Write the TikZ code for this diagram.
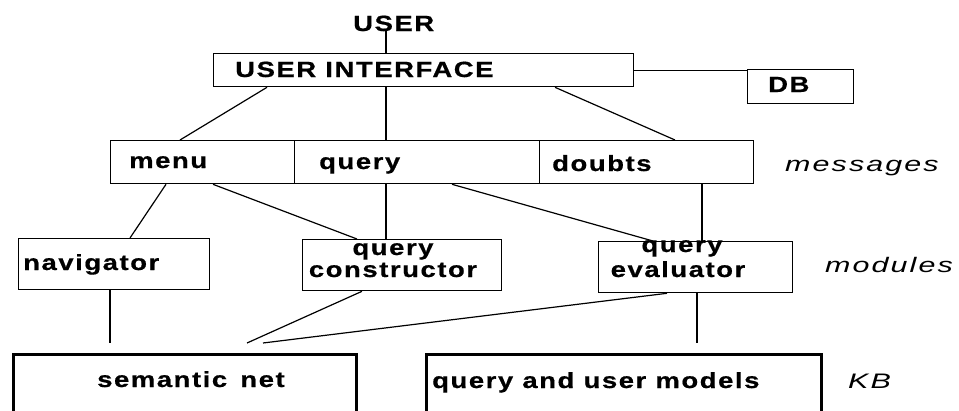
\documentclass[tikz,border=0pt]{standalone}
\usepackage{fontspec}
\usetikzlibrary{calc}
\newfontfamily\boxfont{Liberation Sans Bold}[FakeStretch=1.25,LetterSpace=7,FakeBold=0.6]
\newfontfamily\labfont{Liberation Sans Italic}[FakeStretch=1.45,LetterSpace=10]
\tikzset{
  box/.style={draw, line width=1.3pt, inner sep=0pt, anchor=north west},
  kbbox/.style={draw, line width=3pt, inner sep=0pt, anchor=north west},
  txt/.style={font=\boxfont\fontsize{22}{24}\selectfont, inner sep=0pt, anchor=base west},
  ctxt/.style={font=\boxfont\fontsize{22}{24}\selectfont, inner sep=0pt, anchor=base},
  lab/.style={font=\labfont\fontsize{21}{23}\selectfont, inner sep=0pt, anchor=base west},
  link/.style={line width=1.2pt}
}
\begin{document}
\begin{tikzpicture}[x=1pt,y=-1pt]
\useasboundingbox (0,0) rectangle (959,410);
\clip (0,0) rectangle (959,410);
% boxes
\node[box, minimum width=420pt, minimum height=33pt] (ui) at (213,53) {};
\node[box, minimum width=106pt, minimum height=34pt] (db) at (747,69) {};
\node[box, minimum width=184pt, minimum height=43pt] (menu) at (110,140) {};
\node[box, minimum width=245pt, minimum height=43pt] (qry) at (294,140) {};
\node[box, minimum width=214pt, minimum height=43pt] (doubts) at (539,140) {};
\node[box, minimum width=191pt, minimum height=51pt] (nav) at (18,238) {};
\node[box, minimum width=199pt, minimum height=51pt] (qc) at (302,239) {};
\node[box, minimum width=194pt, minimum height=51pt] (qe) at (598,241) {};
\node[kbbox, minimum width=343pt, minimum height=80pt] (sn) at (12,353) {};
\node[kbbox, minimum width=395pt, minimum height=80pt] (qum) at (425,353) {};
% texts
\node[txt] (user) at (353,31) {USER};
\node[txt] (uitxt) at (235,77) {USER INTERFACE};
\node[txt] (dbtxt) at (768,92) {DB};
\node[txt] (menutxt) at (129,168) {menu};
\node[txt] (qrytxt) at (319,169) {query};
\node[txt] (doubtstxt) at (552,171) {doubts};
\node[txt] (navtxt) at (23,270) {navigator};
\node[ctxt] (qca) at (393,255) {query};
\node[ctxt] (qcb) at (393,277) {constructor};
\node[ctxt] (qea) at (682,252) {query};
\node[ctxt] (qeb) at (678,277) {evaluator};
\node[txt] (sntxt) at (97,387) {semantic\hspace{4pt} net};
\node[txt] (qumtxt) at (432,388) {query and user models};
\node[lab] (msglab) at (785,171) {messages};
\node[lab] (modlab) at (825,272) {modules};
\node[lab] (kblab) at (848,388) {KB};
% free ends
\coordinate (navend) at (110,343);
\coordinate (qcend) at (247,343);
\coordinate (qeend) at (263,343);
\coordinate (qeend2) at (697,343);
% connectors
\draw[link] ($(user.base west)+(33,0)$) -- ($(ui.north west)+(173,0)$);
\draw[link] (ui.east) -- (ui.east -| db.west);
\draw[link] ($(ui.south west)+(54,0)$) -- ($(menu.north west)+(70,0)$);
\draw[link] ($(ui.south west)+(173,0)$) -- ($(qry.north west)+(92,0)$);
\draw[link] ($(ui.south west)+(342,0)$) -- ($(doubts.north west)+(136,0)$);
\draw[link] ($(menu.south west)+(56,0)$) -- ($(nav.north west)+(112,0)$);
\draw[link] ($(menu.south west)+(103,0)$) -- ($(qc.north west)+(55,0)$);
\draw[link] ($(qry.south west)+(92,0)$) -- ($(qc.north west)+(84,0)$);
\draw[link] ($(qry.south west)+(158,0)$) -- ($(qe.north west)+(55,0)$);
\draw[link] ($(doubts.south west)+(163,0)$) -- ($(qe.north west)+(104,0)$);
\draw[link] ($(nav.south west)+(92,0)$) -- (navend);
\draw[link] ($(qc.south west)+(60,0)$) -- (qcend);
\draw[link] ($(qe.south west)+(69,0)$) -- (qeend);
\draw[link] ($(qe.south west)+(99,0)$) -- (qeend2);
\end{tikzpicture}
\end{document}
